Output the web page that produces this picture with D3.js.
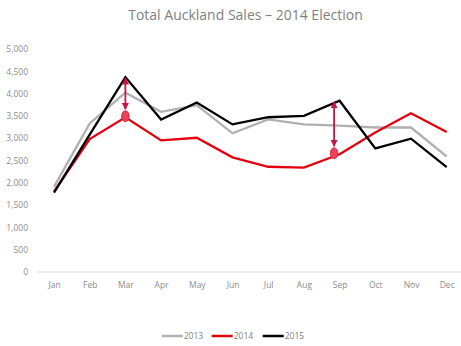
<!DOCTYPE html>
<html><head><meta charset="utf-8">
<script src="https://cdn.jsdelivr.net/npm/d3@7"></script>
<style>body{margin:0;background:#fff}svg{display:block}</style>
</head><body><div id="chart"></div>
<script>
const months = ["Jan","Feb","Mar","Apr","May","Jun","Jul","Aug","Sep","Oct","Nov","Dec"];
const sales2013 = [1910,3330,4020,3590,3740,3110,3420,3310,3280,3240,3240,2590];
const sales2014 = [1800,2980,3470,2950,3010,2570,2360,2340,2640,3130,3560,3140];
const sales2015 = [1780,3080,4370,3420,3800,3310,3470,3500,3840,2770,2990,2350];
const yTicks = [0,500,1000,1500,2000,2500,3000,3500,4000,4500,5000];
const seriesNames = ["2013","2014","2015"];
const seriesColors = ["#b0b0b0","#e3000f","#000000"];
const annotations = [{month:"Mar", from:4370, to:3470, dx:0},{month:"Sep", from:3840, to:2640, dx:-5.5}];

const W=461,H=346;
const svg=d3.select("#chart").append("svg").attr("width",W).attr("height",H);
const x=d3.scalePoint().domain(months).range([54,446.7]);
const y=d3.scaleLinear().domain([0,5000]).range([272,49]);

svg.append("text").attr("x",245.5).attr("y",20).attr("text-anchor","middle")
  .attr("font-family","Open Sans, sans-serif").attr("font-size",14).attr("fill","#7f7f7f")
  .text("Total Auckland Sales – 2014 Election");

// y axis labels
const ya=svg.append("g").attr("transform","translate(28,0)").call(d3.axisLeft(y).tickValues(yTicks).tickSize(0).tickPadding(0).tickFormat(d3.format(",")));
ya.select(".domain").remove();
ya.selectAll("text").attr("font-family","Open Sans, sans-serif").attr("font-size",8.5).attr("fill","#8c8c8c");

// baseline
svg.append("line").attr("x1",37).attr("x2",461).attr("y1",y(0)).attr("y2",y(0)).attr("stroke","#d9d9d9").attr("stroke-width",1);

// x axis labels
const xa=svg.append("g").attr("transform",`translate(0,${y(0)})`).call(d3.axisBottom(x).tickSize(0).tickPadding(10));
xa.select(".domain").remove();
xa.selectAll("text").attr("font-family","Open Sans, sans-serif").attr("font-size",8.5).attr("fill","#8c8c8c");

const line=d3.line().x((d,i)=>x(months[i])).y(d=>y(d));
[sales2013,sales2014,sales2015].forEach((s,i)=>{
  svg.append("path").datum(s).attr("d",line).attr("fill","none").attr("stroke",seriesColors[i])
    .attr("stroke-width",2.3).attr("stroke-linejoin","miter");
});

// annotations
const defs=svg.append("defs");
defs.append("marker").attr("id","ah").attr("viewBox","0 0 10 10").attr("refX",9).attr("refY",5)
  .attr("markerWidth",4).attr("markerHeight",4).attr("orient","auto-start-reverse")
  .append("path").attr("d","M0,0L10,5L0,10z").attr("fill","#c8144b");
annotations.forEach(a=>{
  const ax=x(a.month)+a.dx;
  svg.append("line").attr("x1",ax).attr("x2",ax).attr("y1",y(a.from)+1).attr("y2",y(a.to)-8)
    .attr("stroke","#c8144b").attr("stroke-width",1.8)
    .attr("marker-start","url(#ah)").attr("marker-end","url(#ah)");
  svg.append("ellipse").attr("cx",ax).attr("cy",y(a.to)-1).attr("rx",3.8).attr("ry",5.5)
    .attr("fill","#e8435a").attr("stroke","#d0203f").attr("stroke-width",0.8);
});

// legend
const lg=svg.append("g").attr("transform","translate(0,336)");
const lx=[161.7,211.7,262.7];
seriesNames.forEach((n,i)=>{
  lg.append("line").attr("x1",lx[i]).attr("x2",lx[i]+21).attr("y1",0).attr("y2",0).attr("stroke",seriesColors[i]).attr("stroke-width",2.5);
  lg.append("text").attr("x",lx[i]+22).attr("y",3).attr("font-family","Open Sans, sans-serif").attr("font-size",8.5).attr("fill","#7f7f7f").text(n);
});
</script></body></html>
